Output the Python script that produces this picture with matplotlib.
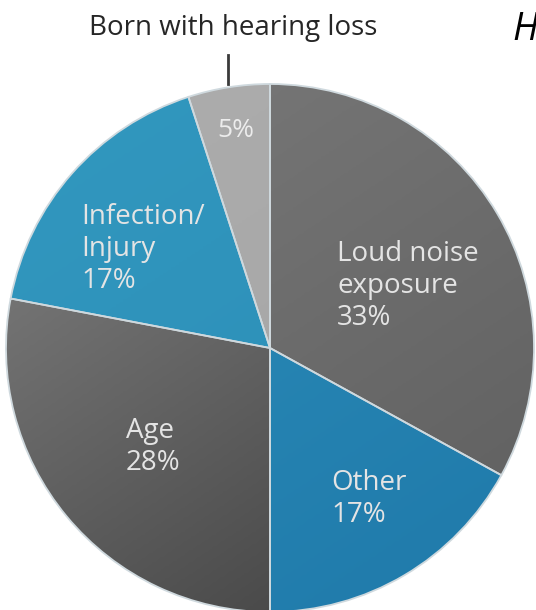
import numpy as np
import matplotlib
matplotlib.use("Agg")
import matplotlib.pyplot as plt
from matplotlib.colors import LinearSegmentedColormap

plt.rcParams["font.family"] = ["Open Sans", "DejaVu Sans"]

# Causes of hearing loss (percent), clockwise from 12 o'clock
causes = ["Loud noise\nexposure", "Other", "Age", "Infection/\nInjury", "Born with hearing loss"]
shares = [33, 17, 28, 17, 5]

# gradient (light, dark) per slice
grad_colors = [("#7a7a7a", "#5e5e5e"), ("#2d8fba", "#1f79aa"), ("#858585", "#3c3c3c"),
               ("#3298bf", "#2b8cb6"), ("#adadad", "#a4a4a4")]

W, H = 536, 610
CX, CY, R = 270, 348, 264  # pie centre / radius in pixels


def px(x, y):
    return (x - CX) / R, (CY - y) / R


fig = plt.figure(figsize=(W / 100, H / 100), dpi=100)
ax = fig.add_axes([0, 0, 1, 1])

wedges, _ = ax.pie(shares, startangle=90, counterclock=False, radius=1,
                   colors=[c[0] for c in grad_colors],
                   wedgeprops=dict(edgecolor="#cfd9de", linewidth=1.3))

x0, y0 = px(0, H)
x1, y1 = px(W, 0)
ax.set_aspect("auto")
ax.axis("off")

# fake the shaded look with a gradient clipped to each wedge
yy, xx = np.mgrid[0:1:200j, 0:1:200j]
g = 0.6 * yy + 0.4 * xx
for w, (c1, c2) in zip(wedges, grad_colors):
    cmap = LinearSegmentedColormap.from_list("g", [c1, c2])
    im = ax.imshow(g, cmap=cmap, extent=[-1, 1, -1, 1], origin="upper",
                   interpolation="bilinear", zorder=w.get_zorder() + 0.1, aspect="auto")
    im.set_clip_path(w)
    w.set_facecolor("none")
    w.set_zorder(w.get_zorder() + 0.2)
ax.set_xlim(x0, x1)
ax.set_ylim(y0, y1)

# slice labels
txt = dict(color="#e4e4e4", fontsize=20, va="baseline", ha="left", linespacing=1.2, zorder=5)
label_pos = [(337, 325), (331, 522), (126, 470), (81, 288)]
for (name, v), (lx, ly) in zip(zip(causes[:4], shares[:4]), label_pos):
    ax.text(*px(lx, ly), f"{name}\n{v}%", **txt)
ax.text(*px(236, 137), f"{shares[4]}%", color="#ececec", fontsize=19, ha="center",
        va="baseline", zorder=5)

# callout for the small slice
ax.plot(*zip(px(228, 55), px(228, 84)), color="#3a3a3a", lw=2, zorder=5)
ax.text(*px(233, 35), causes[4], color="#262626", fontsize=20, ha="center", va="baseline")

# title (runs off the crop)
ax.text(*px(512, 40), "H", color="black", fontsize=27, style="italic", ha="left",
        va="baseline")

fig.savefig("out.png", dpi=100)
